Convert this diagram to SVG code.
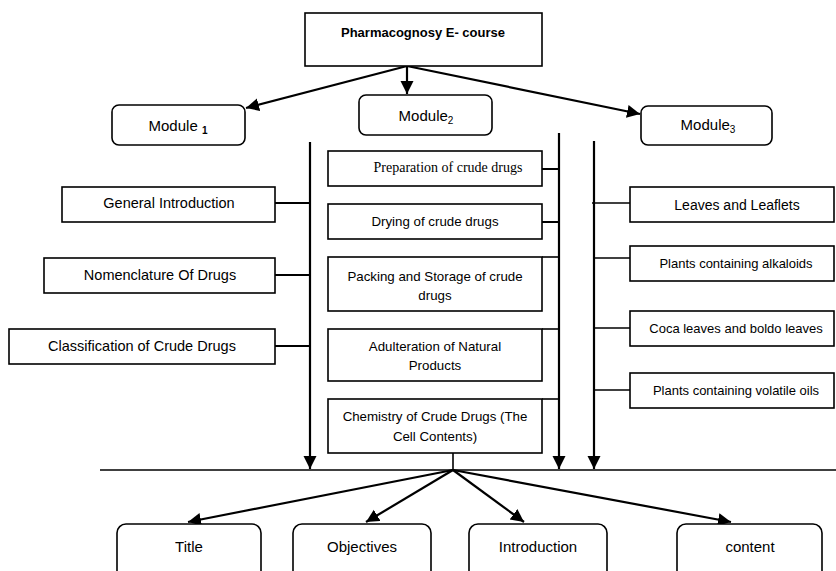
<svg xmlns="http://www.w3.org/2000/svg" width="836" height="571" viewBox="0 0 836 571">
<style>
  .box { fill: #fff; stroke: #000; stroke-width: 1.6; }
  .rbox { fill: #fff; stroke: #000; stroke-width: 1.6; }
  .t { font-family: "Liberation Sans", Arial, sans-serif; fill: #000; text-anchor: middle; }
  .s { font-family: "Liberation Serif", "Times New Roman", serif; fill: #000; text-anchor: middle; }
  .ln { stroke: #000; stroke-width: 2; fill: none; }
  .thin { stroke: #000; stroke-width: 1.6; fill: none; }
  .arr { stroke: #000; stroke-width: 2.2; fill: none; marker-end: url(#ah); }
</style>
<defs>
  <marker id="ah" markerUnits="userSpaceOnUse" markerWidth="14" markerHeight="14" refX="13" refY="6.5" orient="auto">
    <path d="M0,0 L13,6.5 L0,13 Z" fill="#000"/>
  </marker>
</defs>
<rect width="836" height="571" fill="#fff"/>

<g id="connectors">
  <!-- top arrows -->
  <line class="arr" x1="407" y1="66" x2="246" y2="108"/>
  <line class="arr" x1="407" y1="66" x2="407" y2="94"/>
  <line class="arr" x1="407" y1="66" x2="640" y2="114"/>
  <!-- vertical trunks -->
  <line class="arr" x1="310" y1="142" x2="310" y2="469"/>
  <line class="arr" x1="559" y1="133" x2="559" y2="469"/>
  <line class="arr" x1="594" y1="141" x2="594" y2="469"/>
  <!-- left branches -->
  <line class="ln" x1="275" y1="203" x2="310" y2="203"/>
  <line class="ln" x1="275" y1="275" x2="310" y2="275"/>
  <line class="ln" x1="275" y1="346" x2="310" y2="346"/>
  <!-- middle branches -->
  <line class="ln" x1="542" y1="169" x2="559" y2="169"/>
  <line class="ln" x1="542" y1="222" x2="559" y2="222"/>
  <line class="thin" x1="542" y1="257" x2="559" y2="257"/>
  <line class="thin" x1="542" y1="329" x2="559" y2="329"/>
  <line class="thin" x1="542" y1="399" x2="559" y2="399"/>
  <!-- right branches -->
  <line class="thin" x1="592" y1="203" x2="630" y2="203"/>
  <line class="thin" x1="594" y1="258" x2="630" y2="258"/>
  <line class="thin" x1="594" y1="328" x2="630" y2="328"/>
  <line class="thin" x1="594" y1="390" x2="630" y2="390"/>
  <!-- horizontal bar and hub -->
  <line class="thin" x1="100" y1="470" x2="836" y2="470"/>
  <line class="thin" x1="453" y1="453" x2="453" y2="470"/>
  <!-- bottom arrows -->
  <line class="arr" x1="453" y1="470" x2="188" y2="522"/>
  <line class="arr" x1="453" y1="470" x2="366" y2="522"/>
  <line class="arr" x1="453" y1="470" x2="524" y2="522"/>
  <line class="arr" x1="453" y1="470" x2="731" y2="522"/>
</g>

<g id="root">
  <rect class="box" x="305" y="13" width="237" height="53"/>
  <text class="t" x="423" y="37" font-size="13" font-weight="bold">Pharmacognosy E- course</text>
</g>

<g id="module1">
  <rect class="rbox" x="112" y="105" width="133" height="40" rx="7"/>
  <text class="t" x="178" y="131" font-size="15">Module <tspan font-size="10" font-weight="bold" dy="3">1</tspan></text>
</g>
<g id="module2">
  <rect class="rbox" x="359" y="95" width="133" height="40" rx="7"/>
  <text class="t" x="426" y="121" font-size="15">Module<tspan font-size="10" dy="3">2</tspan></text>
</g>
<g id="module3">
  <rect class="rbox" x="641" y="106" width="131" height="39" rx="7"/>
  <text class="t" x="708" y="130" font-size="15">Module<tspan font-size="10" dy="3">3</tspan></text>
</g>

<g id="general-introduction">
  <rect class="box" x="62" y="187" width="213" height="35"/>
  <text class="t" x="169" y="208" font-size="14.5">General Introduction</text>
</g>
<g id="nomenclature">
  <rect class="box" x="44" y="258" width="231" height="35"/>
  <text class="t" x="160" y="280" font-size="14.5">Nomenclature Of Drugs</text>
</g>
<g id="classification">
  <rect class="box" x="9" y="329" width="266" height="35"/>
  <text class="t" x="142" y="351" font-size="14.5">Classification of Crude Drugs</text>
</g>

<g id="preparation">
  <rect class="box" x="328" y="151" width="214" height="35"/>
  <text class="s" x="448" y="172" font-size="14">Preparation of crude drugs</text>
</g>
<g id="drying">
  <rect class="box" x="328" y="204" width="214" height="35"/>
  <text class="t" x="435" y="226" font-size="13.3">Drying of crude drugs</text>
</g>
<g id="packing">
  <rect class="box" x="328" y="257" width="214" height="54"/>
  <text class="t" x="435" y="281" font-size="13.3">Packing and Storage of crude</text>
  <text class="t" x="435" y="300" font-size="13.3">drugs</text>
</g>
<g id="adulteration">
  <rect class="box" x="328" y="329" width="214" height="52"/>
  <text class="t" x="435" y="351" font-size="13.3">Adulteration of Natural</text>
  <text class="t" x="435" y="370" font-size="13.3">Products</text>
</g>
<g id="chemistry">
  <rect class="box" x="328" y="399" width="214" height="54"/>
  <text class="t" x="435" y="421" font-size="13.3">Chemistry of Crude Drugs (The</text>
  <text class="t" x="435" y="441" font-size="13.3">Cell Contents)</text>
</g>

<g id="leaves">
  <rect class="box" x="630" y="187" width="204" height="35"/>
  <text class="t" x="737" y="210" font-size="14">Leaves and Leaflets</text>
</g>
<g id="alkaloids">
  <rect class="box" x="630" y="246" width="204" height="35"/>
  <text class="t" x="736" y="267.5" font-size="13">Plants containing alkaloids</text>
</g>
<g id="coca">
  <rect class="box" x="630" y="311" width="204" height="35"/>
  <text class="t" x="736" y="332.5" font-size="13">Coca leaves and boldo leaves</text>
</g>
<g id="volatile">
  <rect class="box" x="630" y="373" width="204" height="35"/>
  <text class="t" x="736" y="394.5" font-size="13">Plants containing volatile oils</text>
</g>

<g id="title">
  <rect class="rbox" x="117" y="524" width="144" height="60" rx="9"/>
  <text class="t" x="189" y="552" font-size="15">Title</text>
</g>
<g id="objectives">
  <rect class="rbox" x="293" y="524" width="138" height="60" rx="9"/>
  <text class="t" x="362" y="552" font-size="15">Objectives</text>
</g>
<g id="introduction">
  <rect class="rbox" x="469" y="524" width="138" height="60" rx="9"/>
  <text class="t" x="538" y="552" font-size="15">Introduction</text>
</g>
<g id="content">
  <rect class="rbox" x="677" y="524" width="145" height="60" rx="9"/>
  <text class="t" x="750" y="552" font-size="15">content</text>
</g>
</svg>
